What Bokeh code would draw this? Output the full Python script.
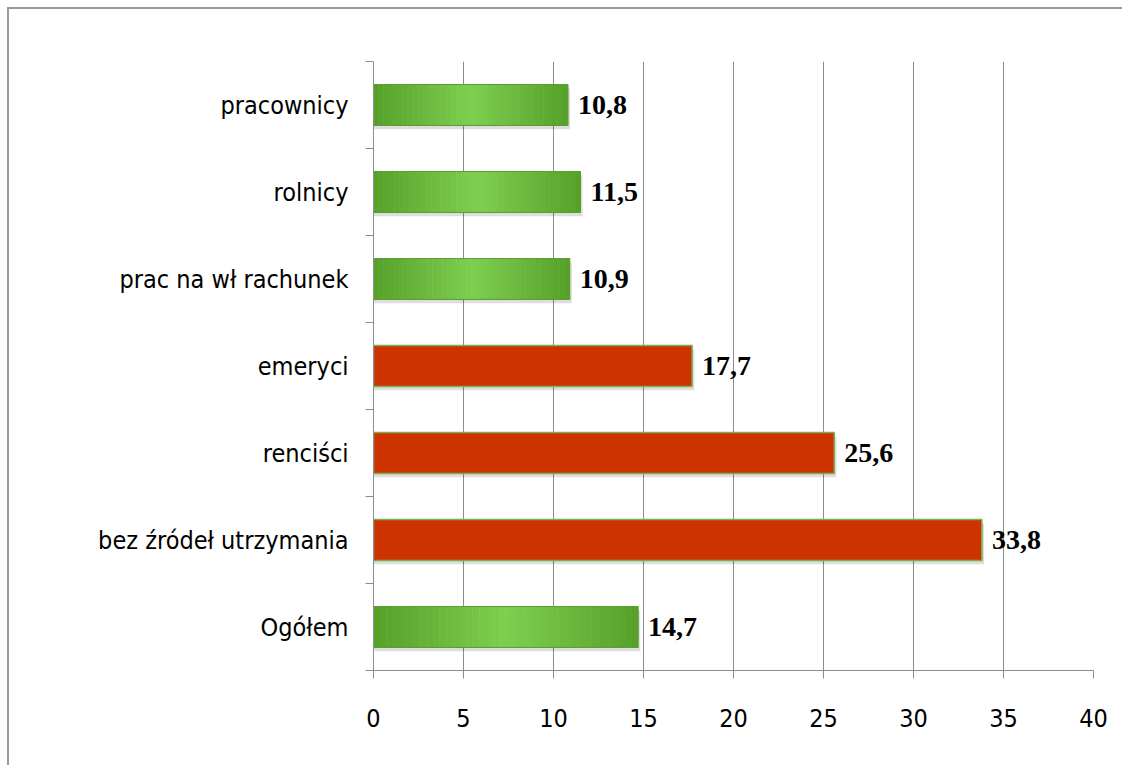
from bokeh.plotting import figure
from bokeh.models import Range1d, FixedTicker, ColumnDataSource
from bokeh.core.properties import value
from bokeh.embed import file_html
from bokeh.resources import INLINE

# data (top to bottom as in the chart)
categories = ["pracownicy", "rolnicy", "prac na wł rachunek", "emeryci",
              "renciści", "bez źródeł utrzymania", "Ogółem"]
values = [10.8, 11.5, 10.9, 17.7, 25.6, 33.8, 14.7]
value_labels = ["10,8", "11,5", "10,9", "17,7", "25,6", "33,8", "14,7"]
highlight = [False, False, False, True, True, True, False]
x_ticks = [0, 5, 10, 15, 20, 25, 30, 35, 40]

n = len(categories)
centers = [n - i - 0.5 for i in range(n)]

SANS = "'Liberation Sans Narrow', 'DejaVu Sans Condensed', 'Open Sans'"
SERIF = "'Liberation Serif', 'DejaVu Serif'"

p = figure(width=1122, height=765, output_backend="svg", toolbar_location=None,
           x_range=Range1d(0, 40), y_range=Range1d(0, n),
           min_border_left=373, min_border_right=29, min_border_top=61,
           min_border_bottom=95)
p.outline_line_color = None
p.background_fill_color = "white"
p.border_fill_color = None
# outer chart border (top and left edges visible, as in the reference)
g = "linear-gradient(#9a9a9a, #9a9a9a)"
p.styles = {
    "background": (f"{g} 7px 7px / calc(100% - 7px) 2px no-repeat, "
                   f"{g} 7px 7px / 2px calc(100% - 7px) no-repeat, white")
}

# grid
p.ygrid.grid_line_color = None
p.xgrid.ticker = FixedTicker(ticks=x_ticks[1:])
p.xgrid.grid_line_color = "#8c8c8c"
p.xgrid.grid_line_width = 1

# x axis
p.xaxis.ticker = FixedTicker(ticks=x_ticks)
p.xaxis.axis_line_color = "#8c8c8c"
p.xaxis.major_tick_line_color = "#8c8c8c"
p.xaxis.major_tick_in = 0
p.xaxis.major_tick_out = 8
p.xaxis.minor_tick_line_color = None
p.xaxis.major_label_text_font = SANS
p.xaxis.major_label_text_font_size = "25px"
p.xaxis.major_label_text_color = "black"
p.xaxis.major_label_standoff = 30

# y axis: labels at centers, tick marks at boundaries
p.yaxis.ticker = FixedTicker(ticks=centers, minor_ticks=list(range(n + 1)))
p.yaxis.major_label_overrides = {c: lab for c, lab in zip(centers, categories)}
p.yaxis.axis_line_color = "#8c8c8c"
p.yaxis.major_tick_line_color = None
p.yaxis.major_tick_in = 0
p.yaxis.major_tick_out = 8
p.yaxis.minor_tick_line_color = "#8c8c8c"
p.yaxis.minor_tick_in = 0
p.yaxis.minor_tick_out = 8
p.yaxis.major_label_text_font = SANS
p.yaxis.major_label_text_font_size = "25px"
p.yaxis.major_label_text_color = "black"
p.yaxis.major_label_standoff = 17

H = 0.47

# shadows
p.hbar(y=[c - 0.045 for c in centers], left=0, right=[v + 0.12 for v in values],
       height=H, fill_color="black", fill_alpha=0.13, line_color=None)

# bars
N = 40
edge = (86, 160, 42)
mid = (126, 207, 80)


def lerp(a, b, t):
    return "#%02x%02x%02x" % tuple(int(round(a[k] + (b[k] - a[k]) * t)) for k in range(3))


for c, v, hl in zip(centers, values, highlight):
    if hl:
        p.hbar(y=[c], left=0, right=[v], height=H, fill_color="#cc3300",
               line_color="#7aae52", line_width=1.5)
    else:
        lefts = [v * i / N for i in range(N)]
        rights = [v * (i + 1) / N for i in range(N)]
        cols = [lerp(edge, mid, 1 - abs(2 * ((i + 0.5) / N) - 1)) for i in range(N)]
        src = ColumnDataSource(dict(y=[c] * N, left=lefts, right=rights, color=cols))
        p.hbar(y="y", left="left", right="right", height=H, fill_color="color",
               line_color="color", line_width=0.6, source=src)
        p.hbar(y=[c], left=0, right=[v], height=H, fill_color=None,
               line_color="#5a9e32", line_width=1)

# value labels
p.text(x=values, y=centers, text=value_labels, x_offset=10,
       text_font=value(SERIF), text_font_style="bold", text_font_size="28px",
       text_baseline="middle", text_align="left", text_color="black")

open("out.html", "w").write(file_html(p, INLINE))
